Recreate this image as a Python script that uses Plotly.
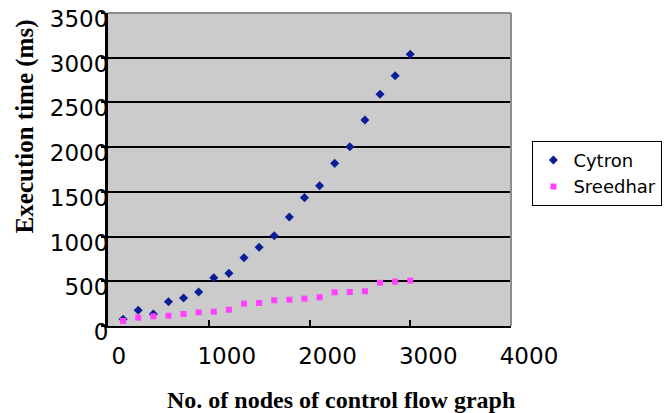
import plotly.graph_objects as go

nodes = [150, 300, 450, 600, 750, 900, 1050, 1200, 1350, 1500,
         1650, 1800, 1950, 2100, 2250, 2400, 2550, 2700, 2850, 3000]
cytron = [75, 176, 134, 272, 313, 380, 540, 589, 764, 880,
          1010, 1219, 1435, 1569, 1819, 2005, 2303, 2591, 2799, 3038]
sreedhar = [56, 93, 108, 115, 134, 153, 160, 182, 250, 257,
            287, 294, 306, 321, 377, 380, 388, 484, 496, 507]
y_ticks = [0, 500, 1000, 1500, 2000, 2500, 3000, 3500]
x_ticks = [0, 1000, 2000, 3000, 4000]
x_labels = ["0\u00a0\u00a0", "1000", "2000", "3000", "4000"]

fig = go.Figure()
fig.add_trace(go.Scatter(x=nodes, y=cytron, mode="markers", name="Cytron",
                         marker=dict(symbol="diamond", size=7, color="#0a1f96")))
fig.add_trace(go.Scatter(x=nodes, y=sreedhar, mode="markers", name="Sreedhar",
                         marker=dict(symbol="square", size=6, color="#ff40ff")))

tick_font = dict(family="DejaVu Sans", size=23, color="black")

fig.update_layout(
    width=668, height=413,
    margin=dict(l=108, r=157, t=13, b=87),
    paper_bgcolor="white", plot_bgcolor="#cbcbcb",
    showlegend=True,
    legend=dict(xref="container", yref="container", x=0.797, y=0.659,
                xanchor="left", yanchor="top",
                bordercolor="black", borderwidth=1, bgcolor="white",
                font=dict(family="DejaVu Sans", size=18, color="black"),
                itemwidth=30),
    xaxis=dict(range=[0, 4000], tickvals=x_ticks, ticktext=x_labels,
               showgrid=False, zeroline=False, automargin=False,
               showline=True, linecolor="black", linewidth=2,
               ticks="inside", ticklen=6, tickwidth=2, tickcolor="black",
               tickfont=tick_font, ticklabelstandoff=8, ticklabelshift=18,
               ticklabeloverflow="allow"),
    yaxis=dict(range=[0, 3500], tickvals=y_ticks, showgrid=True, gridcolor="black",
               gridwidth=2, zeroline=False, automargin=False,
               showline=True, linecolor="black", linewidth=3,
               ticks="outside", ticklen=4, tickwidth=2, tickcolor="black",
               tickfont=tick_font, ticklabelstandoff=-12, ticklabelshift=6,
               ticklabeloverflow="allow"),
)
fig.add_annotation(text="<b>Execution time (ms)</b>", xref="paper", yref="paper",
                   x=-0.205, y=0.639, xanchor="center", yanchor="middle",
                   textangle=-90, showarrow=False,
                   font=dict(family="Liberation Serif", size=25, color="black"))
fig.add_annotation(text="<b>No. of nodes of control flow graph</b>", xref="paper",
                   yref="paper", x=0.577, y=-0.236, xanchor="center", yanchor="middle",
                   showarrow=False,
                   font=dict(family="Liberation Serif", size=24, color="black"))
# gray top and right frame of plot area
fig.add_shape(type="line", xref="paper", yref="paper", x0=0, x1=1, y0=1, y1=1,
              line=dict(color="#8c8c8c", width=2), layer="above")
fig.add_shape(type="line", xref="paper", yref="paper", x0=1, x1=1, y0=0, y1=1,
              line=dict(color="#8c8c8c", width=2), layer="above")

fig.write_html("out.html", config={"displayModeBar": False},
               post_script="document.body.style.margin='0';document.body.style.padding='0';")
